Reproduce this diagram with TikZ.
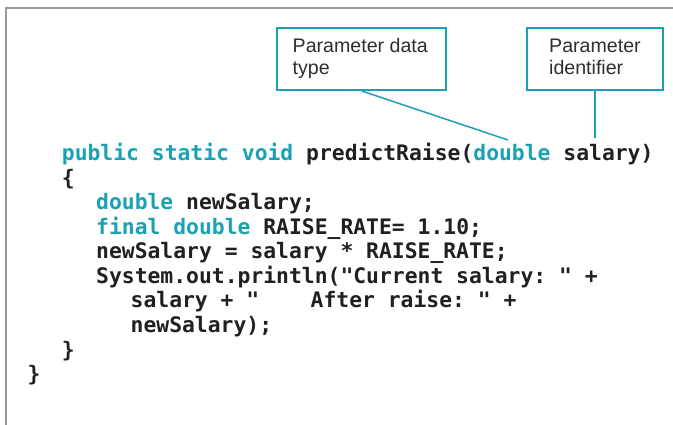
\documentclass[tikz,border=0pt]{standalone}
\usepackage{fontspec}
\setmainfont{Liberation Sans}
\setmonofont{DejaVu Sans Mono}
\definecolor{teal1}{HTML}{1AA2B4}
\definecolor{ink}{HTML}{231F20}
\definecolor{framegray}{HTML}{9A9A9C}
\definecolor{boxtext}{HTML}{2E2E2E}
\newcommand{\kw}[1]{\textcolor{teal1}{#1}}
\tikzset{
  callout/.style={draw=teal1, line width=1.8pt, rectangle, inner sep=0pt},
  calltext/.style={anchor=base west, inner sep=0pt, text=boxtext,
    font=\fontsize{19.6}{22}\selectfont},
  codeline/.style={anchor=base west, inner sep=0pt, text=ink,
    font=\ttfamily\bfseries\fontsize{21.36}{24.5}\selectfont\frenchspacing},
  pointer/.style={draw=teal1, line width=1.5pt},
  frameline/.style={draw=framegray, line width=2pt}
}
\begin{document}
\begin{tikzpicture}[x=1pt,y=-1pt]
\useasboundingbox (0,0) rectangle (673,425);
% frame (only top and left edges visible)
\coordinate (fbl) at (6,426);
\coordinate (ftl) at (6,8);
\coordinate (ftr) at (674,8);
\draw[frameline] (fbl) -- (ftl) -- (ftr);
% callout boxes
\node[callout, minimum width=169pt, minimum height=62pt] (b1) at (361.5,59) {};
\node[callout, minimum width=136pt, minimum height=62pt] (b2) at (595,59) {};
\node[calltext] (t1a) at (292.5,53) {Parameter data};
\node[calltext] (t1b) at (292.5,75) {type};
\node[calltext] (t2a) at (549,53) {Parameter};
\node[calltext] (t2b) at (549,75) {identifier};
% pointer ends
\coordinate (p1) at (508,140);
\coordinate (p2) at (595,138);
\draw[pointer] (b1.south) -- (p1);
\draw[pointer] (b2.south) -- (p2);
% code
\node[codeline] (c1) at (61.7,161) {\kw{public static void} predictRaise(\kw{double} salary)};
\node[codeline] (c2) at (61.7,185.5) {\{};
\node[codeline] (c3) at (96,210) {\kw{double} newSalary;};
\node[codeline] (c4) at (96,234.5) {\kw{final double} RAISE\_RATE= 1.10;};
\node[codeline] (c5) at (96,259) {newSalary = salary * RAISE\_RATE;};
\node[codeline] (c6) at (96,283.5) {System.out.println("Current salary: " +};
\node[codeline] (c7) at (130.5,308) {salary + "\ \ \ \ After raise: " +};
\node[codeline] (c8) at (130.5,332.5) {newSalary);};
\node[codeline] (c9) at (61.7,357) {\}};
\node[codeline] (c10) at (27.5,381.5) {\}};
\end{tikzpicture}
\end{document}
